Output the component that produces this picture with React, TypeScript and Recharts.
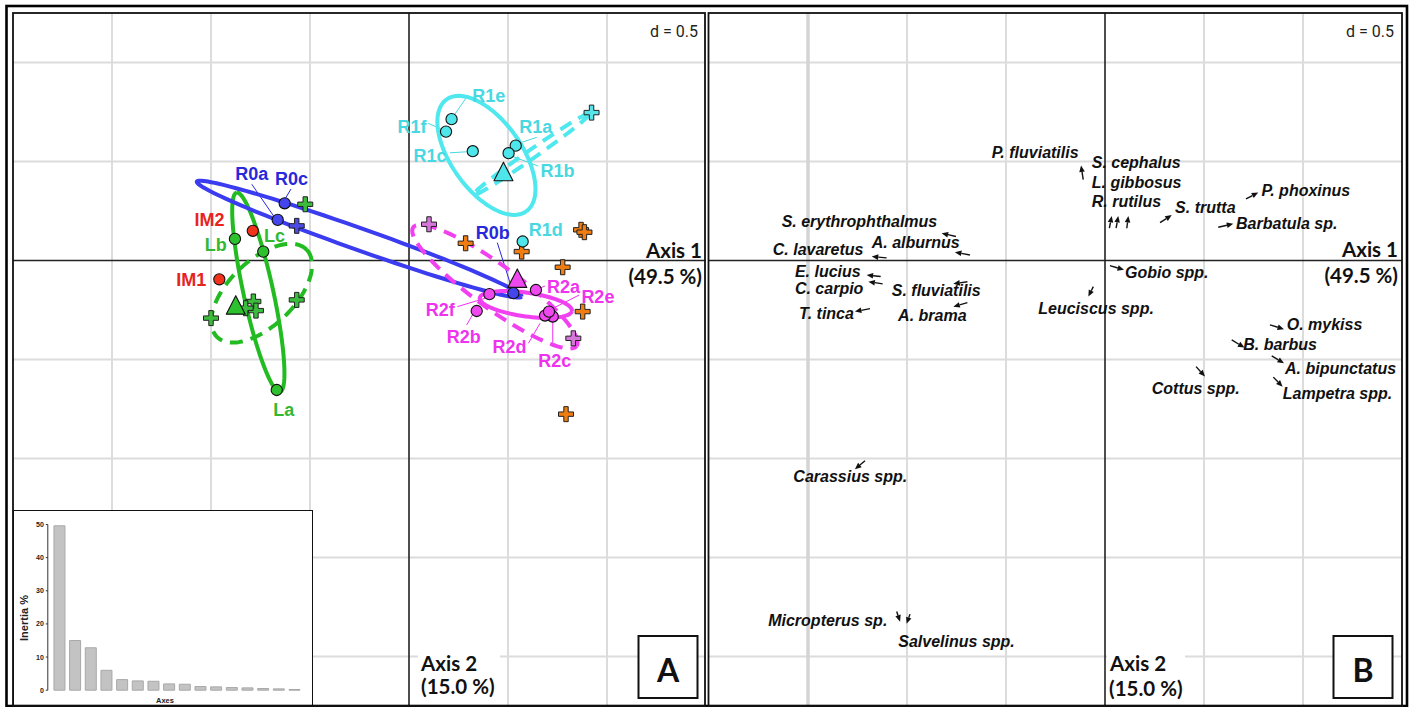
import React from 'react';
import { ScatterChart, Scatter, XAxis, YAxis, CartesianGrid, ReferenceLine, BarChart, Bar } from 'recharts';

// ---------- shared axis settings (data units, d = 0.5) ----------
const X_DOMAIN: [number, number] = [-2, 1.5];
const Y_DOMAIN: [number, number] = [-2.25, 1.25];
const GRID_X = [-1.5, -1, -0.5, 0.5, 1];
const GRID_Y = [1, 0.5, -0.5, -1, -1.5, -2];
const ZERO = [0];

// ---------- Panel A : sites ----------
const sitePoints = [
  { site: 'R0a', group: 'R0', x: -0.663, y: 0.205 },
  { site: 'R0b', group: 'R0', x: 0.527, y: -0.165 },
  { site: 'R0c', group: 'R0', x: -0.628, y: 0.289 },
  { site: 'R1a', group: 'R1', x: 0.539, y: 0.58 },
  { site: 'R1b', group: 'R1', x: 0.503, y: 0.542 },
  { site: 'R1c', group: 'R1', x: 0.322, y: 0.552 },
  { site: 'R1d', group: 'R1', x: 0.574, y: 0.096 },
  { site: 'R1e', group: 'R1', x: 0.215, y: 0.714 },
  { site: 'R1f', group: 'R1', x: 0.187, y: 0.651 },
  { site: 'R2a', group: 'R2', x: 0.641, y: -0.149 },
  { site: 'R2b', group: 'R2', x: 0.342, y: -0.255 },
  { site: 'R2c', group: 'R2', x: 0.726, y: -0.283 },
  { site: 'R2d', group: 'R2', x: 0.687, y: -0.278 },
  { site: 'R2e', group: 'R2', x: 0.707, y: -0.258 },
  { site: 'R2f', group: 'R2', x: 0.406, y: -0.17 },
  { site: 'La', group: 'L', x: -0.668, y: -0.654 },
  { site: 'Lb', group: 'L', x: -0.879, y: 0.109 },
  { site: 'Lc', group: 'L', x: -0.736, y: 0.045 },
  { site: 'IM1', group: 'IM', x: -0.958, y: -0.095 },
  { site: 'IM2', group: 'IM', x: -0.789, y: 0.15 },
];

const groupCentroids = [
  { group: 'L', x: -0.875, y: -0.233 },
  { group: 'R1', x: 0.477, y: 0.441 },
  { group: 'R2', x: 0.547, y: -0.098 },
];

const supplementary = [
  { group: 'L', x: -0.524, y: 0.284 },
  { group: 'L', x: -0.567, y: -0.199 },
  { group: 'L', x: -1.0, y: -0.291 },
  { group: 'L', x: -0.786, y: -0.207 },
  { group: 'L', x: -0.773, y: -0.253 },
  { group: 'L', x: -0.825, y: -0.241 },
  { group: 'R0', x: -0.567, y: 0.175 },
  { group: 'R1', x: 0.922, y: 0.747 },
  { group: 'R2', x: 0.101, y: 0.183 },
  { group: 'R2', x: 0.83, y: -0.393 },
  { group: 'ORA', x: 0.286, y: 0.087 },
  { group: 'ORA', x: 0.569, y: 0.045 },
  { group: 'ORA', x: 0.869, y: 0.155 },
  { group: 'ORA', x: 0.886, y: 0.143 },
  { group: 'ORA', x: 0.776, y: -0.034 },
  { group: 'ORA', x: 0.877, y: -0.258 },
  { group: 'ORA', x: 0.793, y: -0.776 },
];

// ellipses: centre, semi-axes, rotation (degrees) in data units
const groupEllipses = [
  { group: 'L', dashed: true, cx: -0.744, cy: -0.165, a: 0.316, b: 0.165, angle: 44 },
  { group: 'L', dashed: false, cx: -0.761, cy: -0.16, a: 0.515, b: 0.075, angle: 102.3 },
  { group: 'R0', dashed: false, cx: -0.2515, cy: 0.108, a: 0.87, b: 0.055, angle: -19.5 },
  { group: 'R1', dashed: true, cx: 0.619, cy: 0.537, a: 0.36, b: 0.022, angle: 35 },
  { group: 'R1', dashed: false, cx: 0.391, cy: 0.531, a: 0.347, b: 0.177, angle: -54.5 },
  { group: 'R2', dashed: true, cx: 0.434, cy: -0.132, a: 0.51, b: 0.11, angle: -36 },
  { group: 'R2', dashed: false, cx: 0.59, cy: -0.222, a: 0.235, b: 0.06, angle: -8 },
];

const siteLabels = [
  { text: 'R0a', group: 'R0', x: -0.794, y: 0.407 },
  { text: 'R0c', group: 'R0', x: -0.593, y: 0.381 },
  { text: 'R0b', group: 'R0', x: 0.423, y: 0.107 },
  { text: 'IM2', group: 'IM', x: -1.007, y: 0.174 },
  { text: 'IM1', group: 'IM', x: -1.1, y: -0.129 },
  { text: 'Lb', group: 'L', x: -0.976, y: 0.049 },
  { text: 'Lc', group: 'L', x: -0.679, y: 0.095 },
  { text: 'La', group: 'L', x: -0.632, y: -0.785 },
  { text: 'R1e', group: 'R1', x: 0.403, y: 0.802 },
  { text: 'R1f', group: 'R1', x: 0.015, y: 0.642 },
  { text: 'R1c', group: 'R1', x: 0.106, y: 0.499 },
  { text: 'R1a', group: 'R1', x: 0.64, y: 0.642 },
  { text: 'R1b', group: 'R1', x: 0.75, y: 0.42 },
  { text: 'R1d', group: 'R1', x: 0.691, y: 0.124 },
  { text: 'R2a', group: 'R2', x: 0.781, y: -0.163 },
  { text: 'R2e', group: 'R2', x: 0.954, y: -0.213 },
  { text: 'R2f', group: 'R2', x: 0.158, y: -0.28 },
  { text: 'R2b', group: 'R2', x: 0.277, y: -0.418 },
  { text: 'R2d', group: 'R2', x: 0.508, y: -0.469 },
  { text: 'R2c', group: 'R2', x: 0.736, y: -0.536 },
];

const labelLeaders = [
  { group: 'R0', x1: -0.794, y1: 0.385, x2: -0.682, y2: 0.222 },
  { group: 'R0', x1: -0.596, y1: 0.361, x2: -0.626, y2: 0.311 },
  { group: 'R0', x1: 0.446, y1: 0.09, x2: 0.519, y2: -0.14 },
  { group: 'R1', x1: 0.299, y1: 0.836, x2: 0.229, y2: 0.735 },
  { group: 'R1', x1: 0.097, y1: 0.693, x2: 0.165, y2: 0.663 },
  { group: 'R1', x1: 0.207, y1: 0.544, x2: 0.291, y2: 0.549 },
  { group: 'R1', x1: 0.645, y1: 0.622, x2: 0.564, y2: 0.595 },
  { group: 'R1', x1: 0.653, y1: 0.477, x2: 0.527, y2: 0.524 },
  { group: 'R2', x1: 0.687, y1: -0.129, x2: 0.658, y2: -0.14 },
  { group: 'R2', x1: 0.86, y1: -0.174, x2: 0.729, y2: -0.241 },
  { group: 'R2', x1: 0.244, y1: -0.233, x2: 0.384, y2: -0.191 },
  { group: 'R2', x1: 0.291, y1: -0.326, x2: 0.325, y2: -0.267 },
  { group: 'R2', x1: 0.603, y1: -0.418, x2: 0.662, y2: -0.317 },
  { group: 'R2', x1: 0.726, y1: -0.423, x2: 0.726, y2: -0.309 },
];

// ---------- Panel A inset : eigenvalues ----------
const inertiaValues = [49.6, 15.0, 12.8, 6.0, 3.2, 2.8, 2.7, 1.9, 1.8, 1.1, 1.0, 0.8, 0.7, 0.5, 0.4, 0.2];
const inertiaTicks = [0, 10, 20, 30, 40, 50];

// ---------- Panel B : species ----------
const speciesArrows = [
  { name: 'P. fluviatilis', x: -0.121, y: 0.48, tailX: -0.11, tailY: 0.409 },
  { name: 'S. cephalus', x: 0.034, y: 0.225, tailX: 0.022, tailY: 0.163 },
  { name: 'L. gibbosus', x: 0.067, y: 0.225, tailX: 0.056, tailY: 0.163 },
  { name: 'R. rutilus', x: 0.118, y: 0.225, tailX: 0.11, tailY: 0.163 },
  { name: 'P. phoxinus', x: 0.774, y: 0.343, tailX: 0.712, tailY: 0.311 },
  { name: 'S. trutta', x: 0.337, y: 0.23, tailX: 0.278, tailY: 0.191 },
  { name: 'Barbatula sp.', x: 0.648, y: 0.185, tailX: 0.572, tailY: 0.168 },
  { name: 'S. erythrophthalmus', x: -0.825, y: 0.138, tailX: -0.753, tailY: 0.121 },
  { name: 'A. alburnus', x: -0.758, y: 0.042, tailX: -0.682, tailY: 0.028 },
  { name: 'C. lavaretus', x: -1.178, y: 0.02, tailX: -1.103, tailY: 0.013 },
  { name: 'E. lucius', x: -1.204, y: -0.073, tailX: -1.133, tailY: -0.081 },
  { name: 'C. carpio', x: -1.195, y: -0.107, tailX: -1.123, tailY: -0.118 },
  { name: 'T. tinca', x: -1.263, y: -0.258, tailX: -1.187, tailY: -0.243 },
  { name: 'S. fluviatilis', x: -0.766, y: -0.118, tailX: -0.695, tailY: -0.107 },
  { name: 'A. brama', x: -0.766, y: -0.233, tailX: -0.695, tailY: -0.213 },
  { name: 'Gobio spp.', x: 0.096, y: -0.047, tailX: 0.025, tailY: -0.026 },
  { name: 'Leuciscus spp.', x: -0.084, y: -0.182, tailX: -0.059, tailY: -0.132 },
  { name: 'O. mykiss', x: 0.904, y: -0.347, tailX: 0.833, tailY: -0.325 },
  { name: 'B. barbus', x: 0.704, y: -0.44, tailX: 0.64, tailY: -0.401 },
  { name: 'A. bipunctatus', x: 0.904, y: -0.519, tailX: 0.842, tailY: -0.482 },
  { name: 'Cottus spp.', x: 0.505, y: -0.586, tailX: 0.46, tailY: -0.536 },
  { name: 'Lampetra spp.', x: 0.897, y: -0.637, tailX: 0.85, tailY: -0.589 },
  { name: 'Carassius spp.', x: -1.263, y: -1.054, tailX: -1.212, tailY: -1.011 },
  { name: 'Micropterus sp.', x: -1.035, y: -1.824, tailX: -1.052, tailY: -1.773 },
  { name: 'Salvelinus spp.', x: -1.002, y: -1.835, tailX: -0.985, tailY: -1.786 },
];

const speciesLabels = [
  { name: 'P. fluviatilis', x: -0.572, y: 0.518 },
  { name: 'S. cephalus', x: -0.067, y: 0.468 },
  { name: 'L. gibbosus', x: -0.067, y: 0.368 },
  { name: 'R. rutilus', x: -0.067, y: 0.271 },
  { name: 'P. phoxinus', x: 0.791, y: 0.326 },
  { name: 'S. trutta', x: 0.354, y: 0.242 },
  { name: 'Barbatula sp.', x: 0.662, y: 0.158 },
  { name: 'S. erythrophthalmus', x: -1.633, y: 0.17 },
  { name: 'A. alburnus', x: -1.178, y: 0.064 },
  { name: 'C. lavaretus', x: -1.678, y: 0.028 },
  { name: 'E. lucius', x: -1.566, y: -0.083 },
  { name: 'C. carpio', x: -1.566, y: -0.167 },
  { name: 'T. tinca', x: -1.545, y: -0.293 },
  { name: 'S. fluviatilis', x: -1.077, y: -0.179 },
  { name: 'A. brama', x: -1.045, y: -0.305 },
  { name: 'Gobio spp.', x: 0.101, y: -0.086 },
  { name: 'Leuciscus spp.', x: -0.337, y: -0.27 },
  { name: 'O. mykiss', x: 0.918, y: -0.352 },
  { name: 'B. barbus', x: 0.698, y: -0.453 },
  { name: 'A. bipunctatus', x: 0.909, y: -0.574 },
  { name: 'Cottus spp.', x: 0.236, y: -0.672 },
  { name: 'Lampetra spp.', x: 0.898, y: -0.7 },
  { name: 'Carassius spp.', x: -1.574, y: -1.117 },
  { name: 'Micropterus sp.', x: -1.701, y: -1.845 },
  { name: 'Salvelinus spp.', x: -1.044, y: -1.951 },
];

// ---------- styles ----------
const COLORS: Record<string, { mark: string; line?: string; text?: string; cross?: string }> = {
  L: { mark: '#2ec12e', line: '#22bb22', text: '#33b833', cross: '#3cbc3c' },
  IM: { mark: '#f2321b', text: '#e8231e' },
  R0: { mark: '#4545ee', line: '#3b3bef', text: '#2828dc', cross: '#4c4ce4' },
  R1: { mark: '#4ee6ea', line: '#4ee8ee', text: '#48d8e2', cross: '#55e4e8' },
  R2: { mark: '#ee48ee', line: '#f040f0', text: '#ee33ee', cross: '#d477d8' },
  ORA: { mark: '#ef7d12', cross: '#ef7d12' },
};

const SITE_FONT = '"Liberation Sans", Arial, sans-serif';
const AXIS_FONT = 'Lato, "Open Sans", sans-serif';

function ellipseOutline(e: { cx: number; cy: number; a: number; b: number; angle: number }) {
  const t = (e.angle * Math.PI) / 180;
  const pts: { x: number; y: number }[] = [];
  for (let i = 0; i <= 90; i++) {
    const s = (i / 90) * Math.PI * 2;
    const ux = e.a * Math.cos(s);
    const uy = e.b * Math.sin(s);
    pts.push({ x: e.cx + ux * Math.cos(t) - uy * Math.sin(t), y: e.cy + ux * Math.sin(t) + uy * Math.cos(t) });
  }
  return pts;
}

const NoDot = () => <g />;

const CircleShape = (p: any) => (
  <circle cx={p.cx} cy={p.cy} r={5.6} fill={COLORS[p.payload.group].mark} stroke="#111" strokeWidth={1.1} />
);

const TriangleShape = (p: any) => {
  const { cx, cy } = p;
  return (
    <polygon
      points={`${cx},${cy - 11} ${cx - 9.5},${cy + 7.5} ${cx + 9.5},${cy + 7.5}`}
      fill={COLORS[p.payload.group].mark}
      stroke="#111"
      strokeWidth={1.1}
      strokeLinejoin="round"
    />
  );
};

const CrossShape = (p: any) => {
  const { cx, cy } = p;
  const s = 7.5;
  const t = 2.2;
  const d = `M${cx - t},${cy - s}H${cx + t}V${cy - t}H${cx + s}V${cy + t}H${cx + t}V${cy + s}H${cx - t}V${cy + t}H${cx - s}V${cy - t}H${cx - t}Z`;
  return <path d={d} fill={COLORS[p.payload.group].cross} stroke="#222" strokeWidth={1} />;
};

const SiteLabelShape = (p: any) => (
  <text
    x={p.cx}
    y={p.cy}
    textAnchor="middle"
    fontFamily={SITE_FONT}
    fontWeight={700}
    fontSize={18}
    fill={COLORS[p.payload.group].text}
  >
    {p.payload.text}
  </text>
);

const SpeciesLabelShape = (p: any) => (
  <text
    x={p.cx}
    y={p.cy}
    textAnchor="start"
    fontFamily={SITE_FONT}
    fontWeight={700}
    fontStyle="italic"
    fontSize={16}
    fill="#111"
  >
    {p.payload.name}
  </text>
);

const ArrowShape = (p: any) => {
  const { x1, y1, x2, y2 } = p;
  if ([x1, y1, x2, y2].some((v) => typeof v !== 'number' || isNaN(v))) return <g />;
  const dx = x2 - x1;
  const dy = y2 - y1;
  const len = Math.sqrt(dx * dx + dy * dy) || 1;
  const ux = dx / len;
  const uy = dy / len;
  const hl = 6.5;
  const hw = 2.8;
  const bx = x2 - ux * hl;
  const by = y2 - uy * hl;
  return (
    <g>
      <line x1={x1} y1={y1} x2={bx} y2={by} stroke="#111" strokeWidth={1.4} />
      <polygon
        points={`${x2},${y2} ${bx - uy * hw},${by + ux * hw} ${bx + uy * hw},${by - ux * hw}`}
        fill="#111"
      />
    </g>
  );
};

const PANEL_SIZE = 693;

function PanelAxes({ thickMinus15 }: { thickMinus15?: boolean }) {
  return null;
}

function PanelA() {
  return (
    <ScatterChart width={PANEL_SIZE} height={PANEL_SIZE} margin={{ top: 0, right: 0, bottom: 0, left: 0 }}>
      <XAxis type="number" dataKey="x" domain={X_DOMAIN} allowDataOverflow hide />
      <YAxis type="number" dataKey="y" domain={Y_DOMAIN} allowDataOverflow hide />
      <CartesianGrid verticalValues={GRID_X} horizontalValues={GRID_Y} stroke="#dcdcdc" strokeWidth={2} />
      <CartesianGrid verticalValues={ZERO} horizontalValues={ZERO} stroke="#222" strokeWidth={1.6} />
      {groupEllipses.map((e, i) => (
        <Scatter
          key={'ell' + i}
          data={ellipseOutline(e)}
          shape={NoDot}
          line={{
            stroke: COLORS[e.group].line,
            strokeWidth: 4,
            strokeDasharray: e.dashed ? '13 8' : undefined,
            strokeLinejoin: 'round',
          }}
          lineType="joint"
          isAnimationActive={false}
        />
      ))}
      {labelLeaders.map((l, i) => (
        <ReferenceLine
          key={'ld' + i}
          segment={[
            { x: l.x1, y: l.y1 },
            { x: l.x2, y: l.y2 },
          ]}
          stroke={COLORS[l.group].text}
          strokeWidth={1}
          ifOverflow="visible"
        />
      ))}
      <Scatter data={supplementary} shape={CrossShape} isAnimationActive={false} />
      <Scatter data={sitePoints} shape={CircleShape} isAnimationActive={false} />
      <Scatter data={groupCentroids} shape={TriangleShape} isAnimationActive={false} />
      <Scatter data={siteLabels} shape={SiteLabelShape} isAnimationActive={false} />
    </ScatterChart>
  );
}

function PanelB() {
  return (
    <ScatterChart width={PANEL_SIZE} height={PANEL_SIZE} margin={{ top: 0, right: 0, bottom: 0, left: 0 }}>
      <XAxis type="number" dataKey="x" domain={X_DOMAIN} allowDataOverflow hide />
      <YAxis type="number" dataKey="y" domain={Y_DOMAIN} allowDataOverflow hide />
      <CartesianGrid verticalValues={GRID_X} horizontalValues={GRID_Y} stroke="#dcdcdc" strokeWidth={2} />
      <CartesianGrid verticalValues={[GRID_X[0]]} horizontalValues={[]} horizontal={false} stroke="#d4d4d4" strokeWidth={3.5} />
      <CartesianGrid verticalValues={ZERO} horizontalValues={ZERO} stroke="#222" strokeWidth={1.6} />
      <Scatter data={speciesLabels} shape={SpeciesLabelShape} isAnimationActive={false} />
      {speciesArrows.map((s, i) => (
        <ReferenceLine
          key={'ar' + i}
          segment={[
            { x: s.tailX, y: s.tailY },
            { x: s.x, y: s.y },
          ]}
          shape={ArrowShape}
          ifOverflow="visible"
        />
      ))}
    </ScatterChart>
  );
}

function Inset() {
  const data = inertiaValues.map((v, i) => ({ axis: i + 1, inertia: v }));
  return (
    <div
      style={{
        position: 'absolute',
        left: 13,
        top: 510,
        width: 300,
        height: 197,
        border: '1.5px solid #111',
        boxSizing: 'border-box',
        background: '#fff',
      }}
    >
      <BarChart
        width={297}
        height={194}
        data={data}
        margin={{ top: 13.5, right: 8.7, bottom: 14.8, left: 0 }}
        barCategoryGap="15%"
      >
        <XAxis dataKey="axis" hide padding={{ left: 3.8, right: 0 }} />
        <YAxis
          domain={[0, 50]}
          ticks={inertiaTicks}
          interval={0}
          width={33.8}
          tickSize={2}
          tick={{ fontSize: 7, fontWeight: 700, fill: '#222', fontFamily: SITE_FONT }}
          axisLine={{ stroke: '#333', strokeWidth: 1 }}
          tickLine={{ stroke: '#333' }}
        />
        <Bar dataKey="inertia" fill="#c3c3c3" stroke="#a8a8a8" strokeWidth={1} isAnimationActive={false} />
      </BarChart>
    </div>
  );
}

function Overlay() {
  const axisText = { fontFamily: AXIS_FONT, fontWeight: 700, fontSize: 20.5, fill: '#111' } as const;
  return (
    <svg
      width={1412}
      height={707}
      style={{ position: 'absolute', left: 0, top: 0, pointerEvents: 'none' }}
    >
      {/* outer frame and panel frames */}
      <rect x={6.5} y={6} width={1400.5} height={700} fill="none" stroke="#000" strokeWidth={2.6} />
      <rect x={13} y={13} width={692} height={693} fill="none" stroke="#111" strokeWidth={1.8} />
      <rect x={708.5} y={13} width={693.5} height={693} fill="none" stroke="#111" strokeWidth={1.8} />

      {/* scale */}
      <text x={698} y={37} textAnchor="end" fontFamily="Roboto, sans-serif" fontSize={16} fill="#222">d = 0.5</text>
      <text x={1394} y={37} textAnchor="end" fontFamily="Roboto, sans-serif" fontSize={16} fill="#222">d = 0.5</text>

      {/* Panel A axis titles */}
      <text x={702} y={258} textAnchor="end" {...axisText}>Axis 1</text>
      <text x={702} y={284} textAnchor="end" {...axisText}>(49.5 %)</text>
      <rect x={418} y={650} width={82} height={50} fill="#fff" />
      <text x={421} y={671} {...axisText}>Axis 2</text>
      <text x={421} y={694} {...axisText}>(15.0 %)</text>

      {/* Panel B axis titles */}
      <text x={1398} y={257} textAnchor="end" {...axisText}>Axis 1</text>
      <text x={1398} y={283} textAnchor="end" {...axisText}>(49.5 %)</text>
      <rect x={1107} y={650} width={78} height={52} fill="#fff" />
      <text x={1110} y={671} {...axisText}>Axis 2</text>
      <text x={1109} y={696} {...axisText}>(15.0 %)</text>

      {/* panel letters */}
      <rect x={638.5} y={636} width={59} height={62} fill="#fff" stroke="#111" strokeWidth={2} />
      <text x={668} y={682} textAnchor="middle" fontFamily={AXIS_FONT} fontWeight={700} fontSize={32} fill="#111">A</text>
      <rect x={1333.5} y={636} width={59} height={62} fill="#fff" stroke="#111" strokeWidth={2} />
      <text x={1363} y={682} textAnchor="middle" fontFamily={AXIS_FONT} fontWeight={700} fontSize={32} fill="#111">B</text>

      {/* inset titles */}
      <text
        x={28}
        y={618}
        transform="rotate(-90 28 618)"
        textAnchor="middle"
        fontFamily={SITE_FONT}
        fontWeight={700}
        fontSize={11}
        fill="#222"
      >
        Inertia %
      </text>
      <text x={165} y={703} textAnchor="middle" fontFamily={SITE_FONT} fontWeight={700} fontSize={7.5} fill="#222">Axes</text>
    </svg>
  );
}

export default function App() {
  return (
    <div style={{ position: 'absolute', left: 0, top: 0, width: 1412, height: 707, background: '#fff', overflow: 'hidden' }}>
      <div style={{ position: 'absolute', left: 13, top: 13 }}>
        <PanelA />
      </div>
      <div style={{ position: 'absolute', left: 709, top: 13 }}>
        <PanelB />
      </div>
      <Inset />
      <Overlay />
    </div>
  );
}
